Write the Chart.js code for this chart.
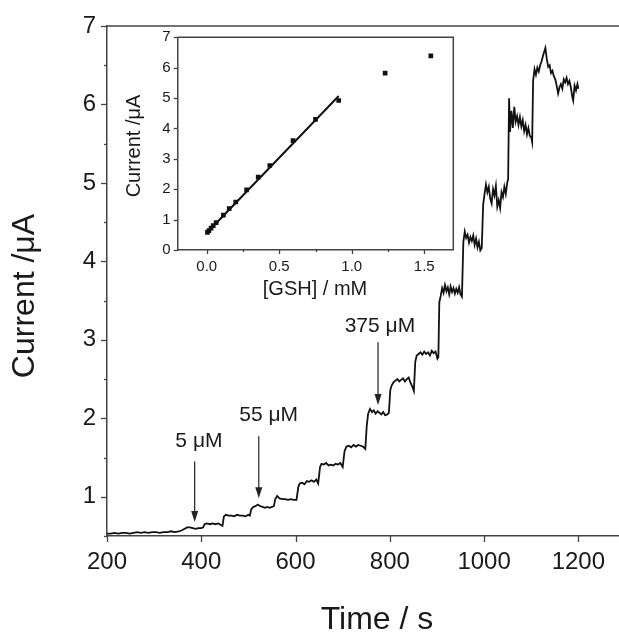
<!DOCTYPE html>
<html>
<head>
<meta charset="utf-8">
<script src="https://cdn.jsdelivr.net/npm/chart.js@4/dist/chart.umd.min.js"></script>
<style>
  body { margin: 0; background: #fff; overflow: hidden; }
  #wrap { position: relative; width: 640px; height: 636px; }
  #main { position: absolute; left: 0; top: 0; }
  #inset { position: absolute; left: 100px; top: 20px; }
</style>
</head>
<body>
<div id="wrap">
  <canvas id="main" width="640" height="636"></canvas>
  <canvas id="inset" width="370" height="290"></canvas>
</div>
<script>
// amperometric trace (time in s, current in µA)
const times = [
  200,208,216,224,232,240,248,256,264,272,280,288,296,304,312,320,328,336,344,352,358,364,370,376,382,388,394,400,404,
  407,412,418,424,430,436,442,445,
  448,452,458,464,470,476,482,488,494,500,503,
  506,510,515,520,525,530,535,540,545,550,554,
  557,561,566,572,578,584,590,596,602,
  606,609,614,619,624,629,634,639,644,648,
  652,655,660,665,670,675,680,685,690,695,700,
  704,708,713,718,723,728,733,738,743,748,
  751,754,758,762,766,770,774,778,782,786,790,795,798,
  801,804,808,812,816,820,824,828,832,836,840,844,848,851,
  854,857,861,865,869,873,877,881,885,889,893,897,901,903,
  905,908,911,914,917,920,923,926,929,932,935,938,941,944,947,950,953,
  956,959,962,965,968,971,974,977,980,983,986,989,992,995,
  998,1001,1004,1007,1010,1013,1016,1019,1022,1025,1028,1031,1034,1037,1040,1043,1046,1049,1051,
  1053,1055,1058,1061,1064,1067,1070,1073,1076,1079,1082,1085,1088,1091,1094,1097,1100,1102,
  1104,1107,1110,1113,1116,1119,1122,1125,1128,1130,1133,1136,1139,1142,1145,1148,1151,1154,1157,1160,
  1163,1166,1169,1172,1175,1178,1181,1184,1187,1189,1192,1195,1198,1200
];
const current = [
  0.53,0.53,0.54,0.53,0.54,0.54,0.53,0.54,0.55,0.54,0.55,0.54,0.55,0.55,0.54,0.55,0.55,0.56,0.55,0.56,0.57,0.59,0.61,0.61,0.60,0.59,0.60,0.60,0.61,
  0.65,0.66,0.65,0.66,0.65,0.66,0.64,0.63,
  0.75,0.77,0.76,0.76,0.75,0.77,0.76,0.76,0.75,0.77,0.76,
  0.84,0.87,0.88,0.90,0.88,0.87,0.86,0.87,0.86,0.87,0.88,
  0.97,1.01,0.98,0.97,0.97,0.96,0.97,0.96,0.96,
  1.13,1.17,1.18,1.16,1.20,1.19,1.21,1.19,1.22,1.17,
  1.38,1.42,1.41,1.43,1.40,1.41,1.40,1.42,1.41,1.43,1.38,
  1.58,1.64,1.65,1.63,1.66,1.64,1.66,1.65,1.64,1.61,
  1.90,2.06,2.12,2.08,2.10,2.06,2.09,2.07,2.05,2.08,2.04,2.05,2.07,
  2.36,2.42,2.46,2.48,2.50,2.47,2.49,2.51,2.47,2.50,2.52,2.45,2.40,2.35,
  2.72,2.80,2.82,2.84,2.81,2.85,2.82,2.84,2.80,2.86,2.83,2.85,2.76,2.78,
  3.48,3.56,3.66,3.60,3.70,3.62,3.67,3.58,3.68,3.61,3.66,3.59,3.65,3.60,3.67,3.58,3.55,
  4.25,4.38,4.30,4.34,4.24,4.31,4.26,4.33,4.21,4.29,4.18,4.25,4.14,4.17,
  4.72,4.86,4.98,4.88,4.95,4.80,4.74,4.92,4.84,4.96,4.70,4.78,4.68,4.88,4.82,4.95,4.86,5.00,5.05,
  6.08,5.65,5.92,5.70,5.97,5.78,5.85,5.74,5.84,5.72,5.80,5.66,5.74,5.62,5.70,5.60,5.58,5.52,
  6.30,6.45,6.38,6.47,6.42,6.50,6.55,6.62,6.68,6.72,6.58,6.48,6.50,6.40,6.43,6.36,6.32,6.24,6.14,6.22,
  6.26,6.20,6.32,6.28,6.34,6.26,6.30,6.22,6.10,6.05,6.24,6.18,6.26,6.20
];

// injection arrows
const arrowTimes = [386, 522, 775];
const arrowStart = [1.45, 1.77, 2.97];
const arrowEnd = [0.68, 0.98, 2.17];
const arrowLabels = ["5 μM", "55 μM", "375 μM"];
const labelTimes = [395, 543, 779];
const labelValues = [1.71, 2.04, 3.18];

// inset: calibration plot
const gshConc = [0.005, 0.015, 0.03, 0.045, 0.065, 0.115, 0.155, 0.2, 0.275, 0.355, 0.435, 0.595, 0.75, 0.91, 1.23, 1.545];
const gshCurrent = [0.58, 0.64, 0.72, 0.8, 0.9, 1.15, 1.36, 1.58, 1.98, 2.4, 2.78, 3.6, 4.3, 4.92, 5.82, 6.39];
const fitConc = [0, 0.91];
const fitCurrent = [0.56, 5.07];

const FONT = "'Liberation Sans', Arial, sans-serif";
const TEXT = "#1a1a1a";
const AXIS = "#444";

// tick marks pointing outward, short ones for the minor ticks
function tickMarks(majorLen, minorLen, drawRight) {
  return {
    id: "tickMarks",
    afterDraw(chart) {
      const ctx = chart.ctx;
      const area = chart.chartArea;
      ctx.save();
      ctx.strokeStyle = AXIS;
      ctx.lineWidth = 1.3;
      const xs = chart.scales.x;
      xs.ticks.forEach(function (t) {
        const px = Math.round(xs.getPixelForValue(t.value)) + 0.5;
        const len = t.label !== "" ? majorLen : minorLen;
        ctx.beginPath();
        ctx.moveTo(px, area.bottom);
        ctx.lineTo(px, area.bottom + len);
        ctx.stroke();
      });
      const ys = chart.scales.y;
      ys.ticks.forEach(function (t) {
        const py = Math.round(ys.getPixelForValue(t.value)) + 0.5;
        const len = t.label !== "" ? majorLen : minorLen;
        ctx.beginPath();
        ctx.moveTo(area.left, py);
        ctx.lineTo(area.left - len, py);
        ctx.stroke();
      });
      // top (and right) of the frame
      ctx.lineWidth = 1.5;
      ctx.beginPath();
      ctx.moveTo(area.left, area.top);
      ctx.lineTo(area.right, area.top);
      if (drawRight) ctx.lineTo(area.right, area.bottom);
      ctx.stroke();
      ctx.restore();
    },
  };
}

function axisTitles(xText, xPos, yText, yPos, size) {
  return {
    id: "axisTitles",
    afterDraw(chart) {
      const ctx = chart.ctx;
      ctx.save();
      ctx.fillStyle = TEXT;
      ctx.font = size + "px " + FONT;
      ctx.textAlign = "center";
      ctx.textBaseline = "middle";
      ctx.fillText(xText, xPos[0], xPos[1]);
      ctx.translate(yPos[0], yPos[1]);
      ctx.rotate(-Math.PI / 2);
      ctx.fillText(yText, 0, 0);
      ctx.restore();
    },
  };
}

const arrowPlugin = {
  id: "arrows",
  afterDatasetsDraw(chart) {
    const ctx = chart.ctx;
    const xs = chart.scales.x;
    const ys = chart.scales.y;
    ctx.save();
    ctx.strokeStyle = "#222";
    ctx.fillStyle = "#222";
    ctx.lineWidth = 1.2;
    arrowTimes.forEach(function (t, i) {
      const px = xs.getPixelForValue(t);
      const y0 = ys.getPixelForValue(arrowStart[i]);
      const y1 = ys.getPixelForValue(arrowEnd[i]);
      ctx.beginPath();
      ctx.moveTo(px, y0);
      ctx.lineTo(px, y1 - 8);
      ctx.stroke();
      ctx.beginPath();
      ctx.moveTo(px - 3.5, y1 - 11);
      ctx.lineTo(px + 3.5, y1 - 11);
      ctx.lineTo(px, y1);
      ctx.closePath();
      ctx.fill();
    });
    ctx.fillStyle = TEXT;
    ctx.font = "21px " + FONT;
    ctx.textAlign = "center";
    ctx.textBaseline = "middle";
    arrowLabels.forEach(function (txt, i) {
      ctx.fillText(txt, xs.getPixelForValue(labelTimes[i]), ys.getPixelForValue(labelValues[i]));
    });
    ctx.restore();
  },
};

new Chart(document.getElementById("main"), {
  type: "line",
  data: {
    datasets: [
      {
        data: times.map(function (t, i) { return { x: t, y: current[i] }; }),
        borderColor: "#111",
        borderWidth: 1.8,
        pointRadius: 0,
        tension: 0,
      },
    ],
  },
  options: {
    responsive: false,
    animation: false,
    layout: { padding: { left: 0, right: 14.5, top: 26, bottom: 0 } },
    plugins: { legend: { display: false }, tooltip: { enabled: false } },
    scales: {
      x: {
        type: "linear",
        min: 200,
        max: 1300,
        afterFit: function (s) { s.height = 100; },
        grid: { drawOnChartArea: false, drawTicks: false },
        border: { display: true, color: AXIS, width: 1.5 },
        ticks: {
          stepSize: 100,
          maxTicksLimit: 50,
          maxRotation: 0,
          padding: 12,
          color: TEXT,
          font: { family: FONT, size: 24 },
          callback: function (v) { return v % 200 === 0 ? String(v) : ""; },
        },
      },
      y: {
        min: 0.5,
        max: 7,
        afterFit: function (s) { s.width = 107; },
        grid: { drawOnChartArea: false, drawTicks: false },
        border: { display: true, color: AXIS, width: 1.5 },
        ticks: {
          stepSize: 0.5,
          maxTicksLimit: 50,
          padding: 11,
          color: TEXT,
          font: { family: FONT, size: 24 },
          callback: function (v) { return Number.isInteger(v) ? String(v) : ""; },
        },
      },
    },
  },
  plugins: [tickMarks(6, 3, false), arrowPlugin, axisTitles("Time / s", [377, 620], "Current /μA", [25, 296], 32)],
});

new Chart(document.getElementById("inset"), {
  type: "scatter",
  data: {
    datasets: [
      {
        type: "line",
        data: fitConc.map(function (c, i) { return { x: c, y: fitCurrent[i] }; }),
        borderColor: "#111",
        borderWidth: 2,
        pointRadius: 0,
      },
      {
        data: gshConc.map(function (c, i) { return { x: c, y: gshCurrent[i] }; }),
        backgroundColor: "#111",
        borderColor: "#111",
        pointStyle: "rect",
        pointRadius: 3.3,
        borderWidth: 0,
      },
    ],
  },
  options: {
    responsive: false,
    animation: false,
    layout: { padding: { left: 0, right: 16.7, top: 17.3, bottom: 0 } },
    plugins: { legend: { display: false }, tooltip: { enabled: false } },
    scales: {
      x: {
        type: "linear",
        min: -0.2,
        max: 1.7,
        afterFit: function (s) { s.height = 60; },
        grid: { drawOnChartArea: false, drawTicks: false },
        border: { display: true, color: AXIS, width: 1.5 },
        ticks: {
          stepSize: 0.25,
          includeBounds: false,
          maxTicksLimit: 50,
          maxRotation: 0,
          padding: 8,
          color: TEXT,
          font: { family: FONT, size: 15 },
          callback: function (v) {
            return Math.abs(v * 2 - Math.round(v * 2)) < 1e-9 ? v.toFixed(1) : "";
          },
        },
      },
      y: {
        min: 0,
        max: 7,
        afterFit: function (s) { s.width = 77.7; },
        grid: { drawOnChartArea: false, drawTicks: false },
        border: { display: true, color: AXIS, width: 1.5 },
        ticks: {
          stepSize: 0.5,
          maxTicksLimit: 50,
          padding: 7,
          color: TEXT,
          font: { family: FONT, size: 15 },
          callback: function (v) { return Number.isInteger(v) ? String(v) : ""; },
        },
      },
    },
  },
  plugins: [tickMarks(4, 2, true), axisTitles("[GSH] / mM", [215, 269], "Current /μA", [34, 126], 20)],
});
</script>
</body>
</html>
